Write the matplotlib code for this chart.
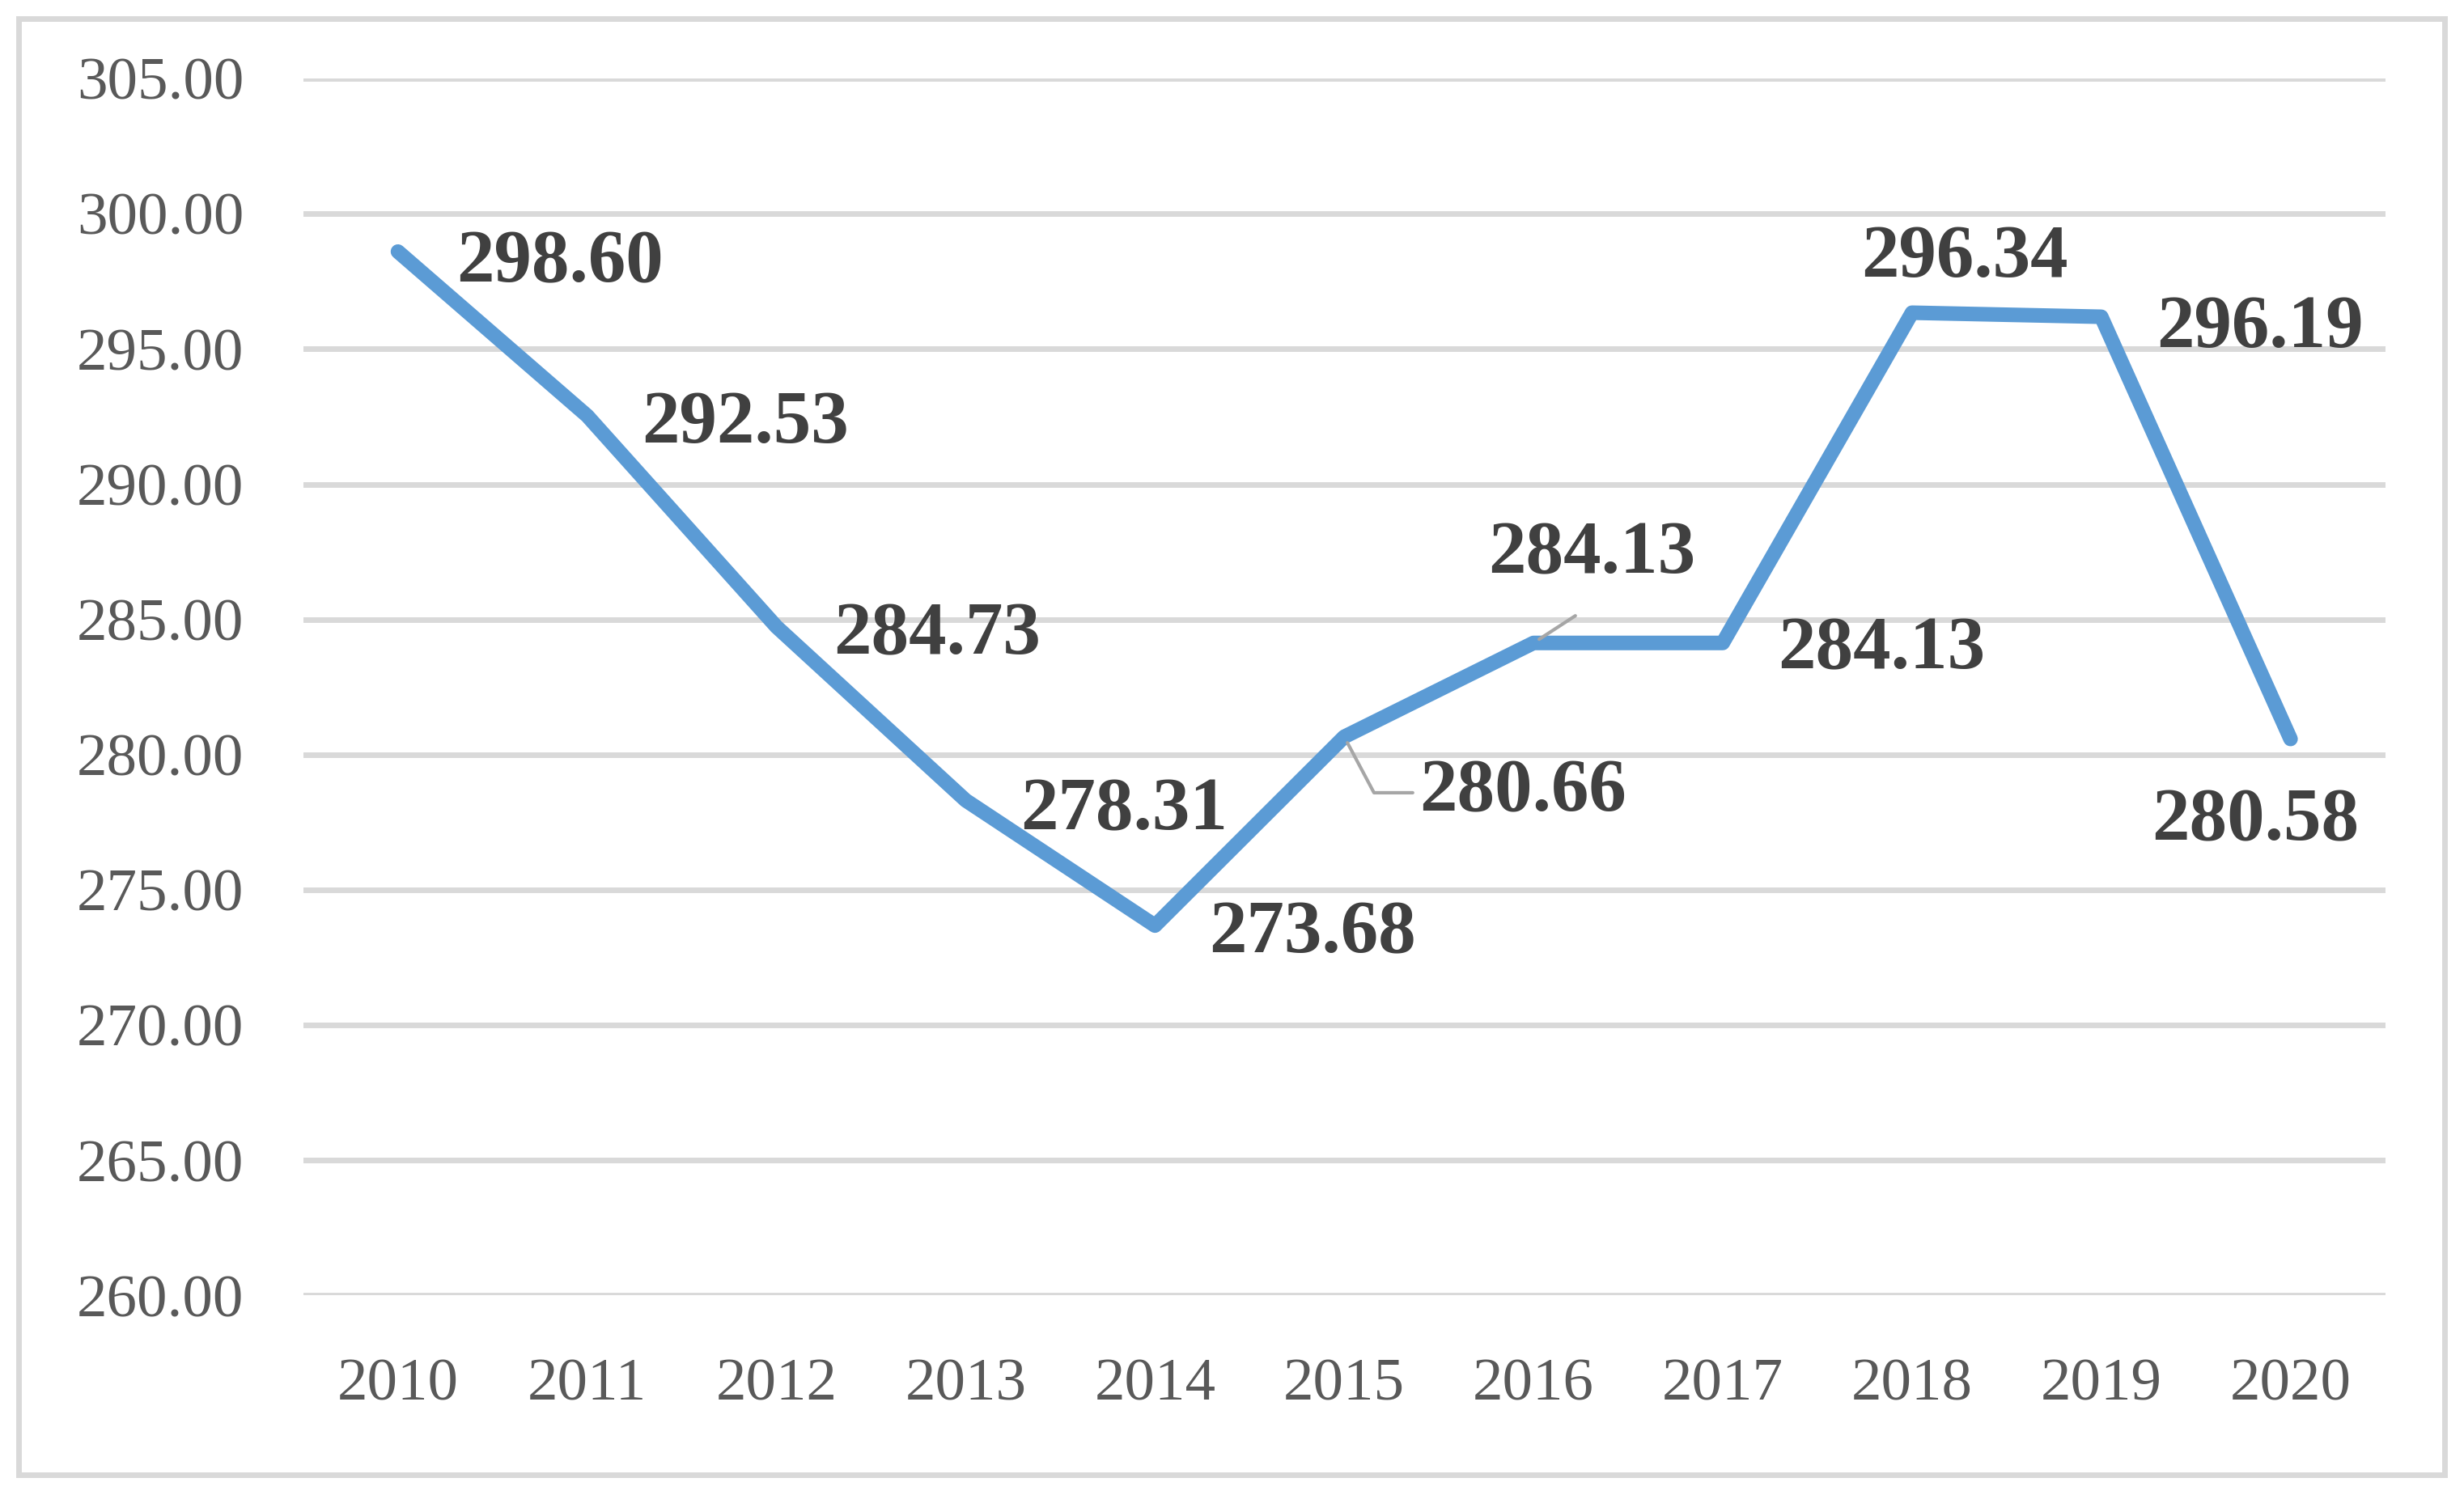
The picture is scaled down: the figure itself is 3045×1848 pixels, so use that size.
"""Line chart of yearly values 2010-2020 with data labels"""

import matplotlib
matplotlib.use("Agg")
import numpy as np
from matplotlib import pyplot as plt
from matplotlib.patches import Rectangle

years = ["2010", "2011", "2012", "2013", "2014", "2015",
         "2016", "2017", "2018", "2019", "2020"]
values = [298.60, 292.53, 284.73, 278.31, 273.68, 280.66,
          284.13, 284.13, 296.34, 296.19, 280.58]
y_ticks = [260, 265, 270, 275, 280, 285, 290, 295, 300, 305]

# label offsets in points (dx, dy to baseline), and which ones get a leader line
label_offsets = [(144, -27), (141, -24), (143, -24), (141, -26), (140, -24),
                 (159, -66), (52, 62), (141, -23), (47, 32), (141, -27), (-31, -90)]
leaders = {5: dict(relpos=(0, 0.5), shrinkA=4,
                   connectionstyle="angle,angleA=0,angleB=-62,rad=0"),
           6: dict(relpos=(0.5, 0), shrinkA=26,
                   connectionstyle="angle,angleA=90,angleB=33,rad=0")}

LINE_COLOR = "#5B9BD5"
GRID_COLOR = "#D9D9D9"
TICK_COLOR = "#595959"
LABEL_COLOR = "#404040"

plt.rcParams['font.family'] = ['Liberation Serif', 'DejaVu Serif']

fig = plt.figure(figsize=(30.45, 18.48), dpi=100)
ax = fig.add_axes([0.1231, 0.1334, 0.8449, 0.8141])

x = np.arange(len(years))
ax.plot(x, values, color=LINE_COLOR, lw=13, solid_capstyle='round',
        solid_joinstyle='round', zorder=3)

for i, (v, (dx, dy)) in enumerate(zip(values, label_offsets)):
    kw = {}
    if i in leaders:
        kw['arrowprops'] = dict(arrowstyle='-', color='#A6A6A6', lw=3,
                                shrinkB=6, **leaders[i])
    ax.annotate(f"{v:.2f}", xy=(i, v), xytext=(dx, dy), textcoords='offset points',
                ha='center', va='baseline', fontsize=67, fontweight='bold',
                color=LABEL_COLOR, zorder=4, **kw)

ax.set_xlim(-0.5, len(years) - 0.5)
ax.set_ylim(y_ticks[0], y_ticks[-1])
ax.set_yticks(y_ticks)
ax.set_yticklabels([f"{t:.2f}" for t in y_ticks])
ax.set_xticks(x)
ax.set_xticklabels(years)
ax.tick_params(axis='y', length=0, pad=53, labelsize=54, labelcolor=TICK_COLOR)
ax.tick_params(axis='x', length=0, pad=56, labelsize=54, labelcolor=TICK_COLOR)
ax.grid(axis='y', color=GRID_COLOR, lw=5)
ax.set_axisbelow(True)
for s in ax.spines.values():
    s.set_visible(False)
ax.set_clip_on(False)

# light grey chart border
fig.patches.append(Rectangle((0.0077, 0.0135), 0.9843, 0.9740, transform=fig.transFigure,
                             fill=False, edgecolor=GRID_COLOR, lw=5))

fig.savefig("out.png", dpi=100, facecolor='white')
